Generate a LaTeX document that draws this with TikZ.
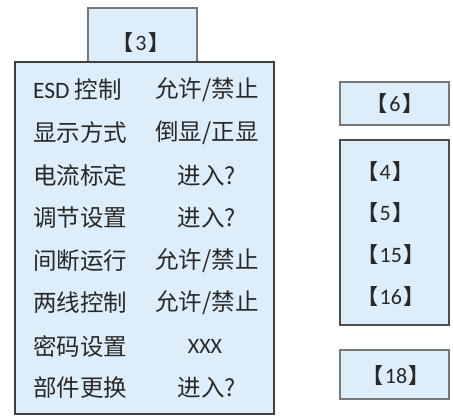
\documentclass[tikz,border=0pt]{standalone}
\usepackage{fontspec}
\setmainfont{Noto Sans CJK SC}
\newfontfamily\numfont{Carlito}
\usetikzlibrary{positioning}
\definecolor{panelblue}{RGB}{221,238,250}
\definecolor{framegray}{RGB}{120,120,120}
\definecolor{textgray}{RGB}{40,40,40}
\tikzset{%
  panel/.style={draw=framegray, fill=panelblue, line width=1.2pt, inner sep=0pt},
  item/.style={font=\fontsize{23.5}{26}\selectfont, text=textgray, inner sep=0pt},
  tag/.style={font=\fontsize{21}{24}\selectfont, text=textgray, inner sep=0pt}
}
\newcommand{\tagnum}[1]{{\bfseries 【}\hspace{1.5pt}{\numfont\fontsize{22}{24}\selectfont #1}\hspace{1.5pt}{\bfseries 】}}

\begin{document}
\begin{tikzpicture}[x=1pt, y=-1pt]
  \useasboundingbox (0,0) rectangle (453,416);

  % menu 3
  \node[panel, minimum width=109pt, minimum height=54pt] (tab) at (142.5,35) {};
  \node[tag] (tabtxt) at (141,43) {\tagnum{3}};
  \node[panel, draw=black!75, minimum width=259pt, minimum height=352pt] (menu) at (144.5,238) {};

  \node[item, anchor=west] (k1) at (33,90)  {{\numfont ESD} 控制};
  \node[item, anchor=west] (k2) at (33,133) {显示方式};
  \node[item, anchor=west] (k3) at (33,176) {电流标定};
  \node[item, anchor=west] (k4) at (33,218) {调节设置};
  \node[item, anchor=west] (k5) at (33,261) {间断运行};
  \node[item, anchor=west] (k6) at (33,303) {两线控制};
  \node[item, anchor=west] (k7) at (33,346) {密码设置};
  \node[item, anchor=west] (k8) at (33,388) {部件更换};

  \node[item] (v1) at (207,90)  {允许/禁止};
  \node[item] (v2) at (207,133) {倒显/正显};
  \node[item] (v3) at (207,176) {进入?};
  \node[item] (v4) at (207,218) {进入?};
  \node[item] (v5) at (207,261) {允许/禁止};
  \node[item] (v6) at (207,303) {允许/禁止};
  \node[item, font=\numfont\fontsize{22}{24}\selectfont] (v7) at (205,346) {XXX};
  \node[item] (v8) at (207,388) {进入?};

  % right column
  \node[panel, minimum width=109pt, minimum height=43pt] (box6) at (394.5,103.5) {};
  \node[tag] (t6) at (395,104) {\tagnum{6}};

  \node[panel, draw=black!70, minimum width=109pt, minimum height=185pt] (box4) at (394.5,232.5) {};
  \node[tag, anchor=west] (t4)  at (357,172) {\tagnum{4}};
  \node[tag, anchor=west] (t5)  at (357,213) {\tagnum{5}};
  \node[tag, anchor=west] (t15) at (357,255) {\tagnum{15}};
  \node[tag, anchor=west] (t16) at (357,297) {\tagnum{16}};

  \node[panel, minimum width=109pt, minimum height=49pt] (box18) at (394.5,374.5) {};
  \node[tag] (t18) at (396,376) {\tagnum{18}};
\end{tikzpicture}
\end{document}
